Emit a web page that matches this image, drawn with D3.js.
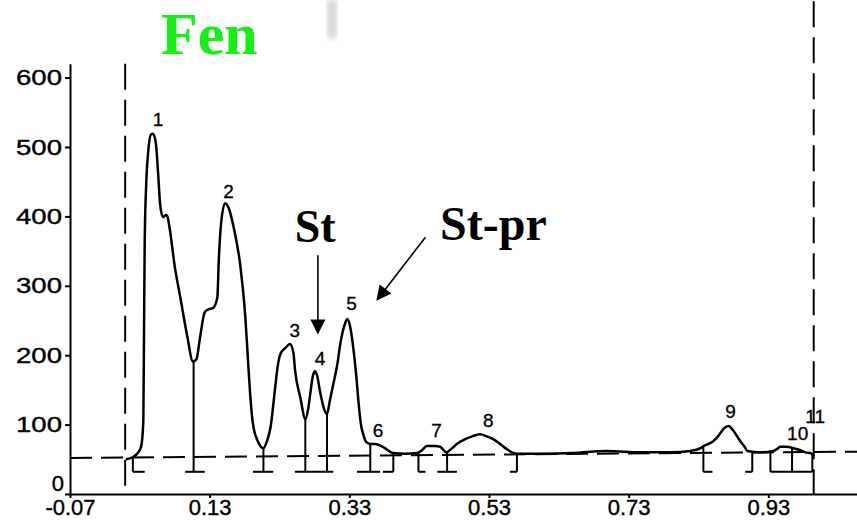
<!DOCTYPE html>
<html lang="en">
<head>
<meta charset="utf-8">
<title>Fen</title>
<style>
  body { margin: 0; background: #fff; }
  svg { display: block; }
  .axis text { font-family: "Liberation Sans", Arial, sans-serif; font-size: 22px; fill: #000; stroke: #000; stroke-width: 0.4; }
  .axis path, .axis line { stroke: #000; stroke-width: 2; }
  .peak { font-family: "Liberation Sans", Arial, sans-serif; font-size: 19px; text-anchor: middle; stroke: #000; stroke-width: 0.3; }
  .big { font-family: "Liberation Serif", "Times New Roman", serif; font-weight: bold; }
</style>
</head>
<body>
<svg width="857" height="527"></svg>
<script src="https://d3js.org/d3.v7.min.js"></script>
<script>

// densitometer scan, Rf vs. signal
var rf = [0.010, 0.020, 0.027, 0.032, 0.035, 0.036, 0.037, 0.039, 0.042, 0.046, 0.049, 0.053, 0.056, 0.059,
  0.063, 0.068, 0.070, 0.073, 0.080, 0.088, 0.098, 0.106, 0.111, 0.116, 0.123, 0.128, 0.135, 0.141, 0.143,
  0.146, 0.152, 0.158, 0.164, 0.174, 0.181, 0.185, 0.188, 0.192, 0.199, 0.207, 0.212, 0.217, 0.224, 0.227,
  0.231, 0.239, 0.245, 0.250, 0.252, 0.260, 0.267, 0.271, 0.274, 0.278, 0.281, 0.284, 0.288, 0.294, 0.298,
  0.302, 0.307, 0.313, 0.317, 0.323, 0.327, 0.331, 0.335, 0.340, 0.343, 0.347, 0.350, 0.354, 0.360, 0.367,
  0.378, 0.393, 0.410, 0.427, 0.434, 0.441, 0.453, 0.460, 0.469, 0.476, 0.484, 0.496, 0.506, 0.517, 0.527,
  0.536, 0.546, 0.555, 0.563, 0.570, 0.603, 0.651, 0.699, 0.747, 0.790, 0.818, 0.833, 0.837, 0.844, 0.851,
  0.858, 0.866, 0.873, 0.880, 0.886, 0.890, 0.896, 0.900, 0.919, 0.937, 0.943, 0.947, 0.956, 0.966, 0.976,
  0.983, 0.990, 0.996];
var signal = [50, 53, 59, 69, 105, 234, 364, 443, 493, 518, 519, 505, 465, 418,
  399, 402, 398, 381, 328, 283, 227, 191, 194, 224, 262, 266, 268, 283, 335,
  386, 419, 410, 386, 328, 256, 191, 144, 101, 76, 66, 76, 95, 155, 181,
  201, 211, 216, 203, 181, 138, 108, 122, 144, 171, 177, 170, 148, 122, 115,
  134, 158, 188, 216, 243, 252, 242, 216, 170, 134, 98, 86, 75, 72, 72,
  68, 59, 58, 59, 63, 69, 69, 68, 60, 65, 72, 79, 83, 86, 83,
  79, 72, 65, 60, 58, 58, 59, 62, 60, 60, 62, 66, 69, 72, 76,
  83, 94, 98, 91, 82, 76, 68, 62, 60, 62, 65, 68, 68, 66, 63,
  60, 59, 55];

// dashed baseline (rf, signal)
var baseRf = [-0.07, 1.057];
var baseVal = [52, 61];

// start / front lines
var frontRf = [0.009, 0.995];
var frontTop = [620, 710];

// integration drop lines
var dropRf  = [0.020, 0.107, 0.207, 0.267, 0.298, 0.360, 0.393, 0.429, 0.470, 0.570, 0.837, 0.907, 0.933, 0.964, 0.993];
var dropTop = [53, 191, 66, 108, 115, 72, 59, 59, 62, 58, 69, 60, 60, 66, 59];
var footFrom = [0.020, 0.095, 0.192, 0.252, 0.341, 0.378, 0.429, 0.456, 0.560, 0.837, 0.897, 0.933];
var footTo   = [0.037, 0.123, 0.221, 0.307, 0.374, 0.393, 0.439, 0.484, 0.570, 0.850, 0.907, 0.993];
var footVal = 32;

// peak numbers
var peakNo  = ["1", "2", "3", "4", "5", "6", "7", "8", "9", "10", "11"];
var peakRf  = [0.056, 0.157, 0.252, 0.288, 0.333, 0.371, 0.455, 0.529, 0.876, 0.972, 0.997];
var peakVal = [530, 427, 226, 186, 265, 82, 82, 97, 110, 78, 102];

var xTicks = [-0.07, 0.13, 0.33, 0.53, 0.73, 0.93];
var xTickLabels = ["-0.07", "0.13", "0.33", "0.53", "0.73", "0.93"];
var yTicks = [0, 100, 200, 300, 400, 500, 600];

var svg = d3.select("svg"),
    width = +svg.attr("width"),
    height = +svg.attr("height");

var x = d3.scaleLinear().domain([-0.07, 1.057]).range([70, 857]);
var y = d3.scaleLinear().domain([0, 620]).range([494, 63.7]);

// title
svg.append("text")
    .attr("class", "big")
    .attr("x", 161).attr("y", 54)
    .attr("font-size", 60)
    .attr("fill", "#14f014")
    .text("Fen");

// scanner smudge
svg.append("defs").append("filter").attr("id", "blur")
  .append("feGaussianBlur").attr("stdDeviation", 3);
svg.append("rect")
    .attr("x", 327).attr("y", 0).attr("width", 10).attr("height", 38)
    .attr("fill", "#d4d4d4").attr("filter", "url(#blur)");

// axes
svg.append("g")
    .attr("class", "axis")
    .attr("transform", "translate(0," + y(0) + ")")
    .call(d3.axisBottom(x).tickValues(xTicks).tickSize(4).tickSizeOuter(0)
      .tickFormat(function(d, i) { return xTickLabels[i]; }))
  .selectAll("text").attr("dy", "0.62em");

var yAxis = svg.append("g")
    .attr("class", "axis")
    .attr("transform", "translate(" + x(-0.07) + ",0)")
    .call(d3.axisLeft(y).tickValues(yTicks).tickSize(5).tickSizeOuter(0));
yAxis.selectAll("text").attr("x", -8)
    .filter(function(d) { return d > 0; })
    .attr("textLength", 46).attr("lengthAdjust", "spacingAndGlyphs");
yAxis.selectAll(".tick").filter(function(d) { return d === 0; })
  .select("text").attr("y", -11).attr("x", -6);

// front lines
svg.selectAll(".front")
  .data(frontRf)
  .enter().append("line")
    .attr("class", "front")
    .attr("x1", function(d) { return x(d); })
    .attr("x2", function(d) { return x(d); })
    .attr("y1", function(d, i) { return y(frontTop[i]); })
    .attr("y2", y(0))
    .attr("stroke", "#000").attr("stroke-width", 2)
    .attr("stroke-dasharray", "26,10");

// baseline
svg.append("line")
    .attr("x1", x(baseRf[0])).attr("y1", y(baseVal[0]))
    .attr("x2", x(baseRf[1])).attr("y2", y(baseVal[1]))
    .attr("stroke", "#000").attr("stroke-width", 2)
    .attr("stroke-dasharray", "22,9");

// drop lines and feet
svg.selectAll(".drop")
  .data(dropRf)
  .enter().append("line")
    .attr("class", "drop")
    .attr("x1", function(d) { return x(d); })
    .attr("x2", function(d) { return x(d); })
    .attr("y1", function(d, i) { return y(dropTop[i]); })
    .attr("y2", y(footVal))
    .attr("stroke", "#000").attr("stroke-width", 2);

svg.selectAll(".foot")
  .data(footFrom)
  .enter().append("line")
    .attr("class", "foot")
    .attr("x1", function(d) { return x(d); })
    .attr("x2", function(d, i) { return x(footTo[i]); })
    .attr("y1", y(footVal))
    .attr("y2", y(footVal))
    .attr("stroke", "#000").attr("stroke-width", 2);

// scan trace
var line = d3.line()
    .x(function(d) { return x(d[0]); })
    .y(function(d) { return y(d[1]); })
    .curve(d3.curveMonotoneX);

svg.append("path")
    .datum(d3.zip(rf, signal))
    .attr("d", line)
    .attr("fill", "none")
    .attr("stroke", "#000")
    .attr("stroke-width", 2.5)
    .attr("stroke-linejoin", "round");

// peak numbers
svg.selectAll(".peak")
  .data(peakNo)
  .enter().append("text")
    .attr("class", "peak")
    .attr("x", function(d, i) { return x(peakRf[i]); })
    .attr("y", function(d, i) { return y(peakVal[i]); })
    .text(function(d) { return d; });

// annotations
svg.append("defs").append("marker")
    .attr("id", "head")
    .attr("viewBox", "0 0 10 10")
    .attr("refX", 9).attr("refY", 5)
    .attr("markerWidth", 17).attr("markerHeight", 15)
    .attr("markerUnits", "userSpaceOnUse")
    .attr("orient", "auto")
  .append("path").attr("d", "M0,0L10,5L0,10z");

svg.append("text")
    .attr("class", "big")
    .attr("x", x(0.281)).attr("y", y(363))
    .attr("text-anchor", "middle")
    .attr("font-size", 46)
    .text("St");

svg.append("line")
    .attr("x1", x(0.285)).attr("y1", y(344))
    .attr("x2", x(0.285)).attr("y2", y(232))
    .attr("stroke", "#000").attr("stroke-width", 1.6)
    .attr("marker-end", "url(#head)");

svg.append("text")
    .attr("class", "big")
    .attr("x", x(0.460)).attr("y", y(366))
    .attr("font-size", 48)
    .text("St-pr");

svg.append("line")
    .attr("x1", x(0.439)).attr("y1", y(370))
    .attr("x2", x(0.370)).attr("y2", y(280))
    .attr("stroke", "#000").attr("stroke-width", 1.6)
    .attr("marker-end", "url(#head)");

</script>
</body>
</html>
